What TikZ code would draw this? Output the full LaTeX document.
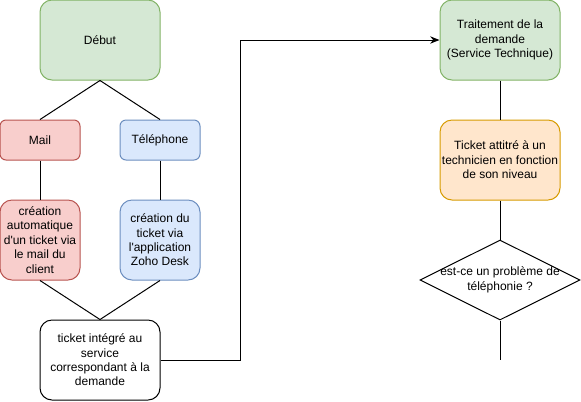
\documentclass[tikz,border=0pt]{standalone}
\usepackage{fontspec}
\setmainfont{Liberation Sans}
\usetikzlibrary{arrows.meta, shapes.geometric}

\definecolor{vertfond}{HTML}{D5E8D4}
\definecolor{verttrait}{HTML}{82B366}
\definecolor{rougefond}{HTML}{F8CECC}
\definecolor{rougetrait}{HTML}{B85450}
\definecolor{bleufond}{HTML}{DAE8FC}
\definecolor{bleutrait}{HTML}{6C8EBF}
\definecolor{orangefond}{HTML}{FFE6CC}
\definecolor{orangetrait}{HTML}{D79B00}

\begin{document}
\begin{tikzpicture}[
  x=0.75pt, y=-0.75pt,
  box/.style = {rectangle, draw, line width=0.75pt, align=center, inner sep=0pt,
                font=\fontsize{9}{10.8}\selectfont},
  bigbox/.style = {box, minimum width=90pt, minimum height=60pt, rounded corners=9pt},
  smallbox/.style = {box, minimum width=60pt, minimum height=30pt, rounded corners=4.5pt},
  squarebox/.style = {box, minimum width=60pt, minimum height=60pt, rounded corners=9pt},
  greenbox/.style = {fill=vertfond, draw=verttrait},
  redbox/.style = {fill=rougefond, draw=rougetrait},
  bluebox/.style = {fill=bleufond, draw=bleutrait},
  orangebox/.style = {fill=orangefond, draw=orangetrait},
  decision/.style = {diamond, draw, line width=0.75pt, inner sep=0pt,
                     minimum width=120pt, minimum height=60pt},
  link/.style = {line width=0.75pt},
  flow/.style = {link, -{Stealth[length=7pt, width=5.5pt]}}
]

% Page
\useasboundingbox (0,0) rectangle (581,401);

% Left column
\node[bigbox, greenbox] (debut) at (100,40) {Début};
\node[smallbox, redbox] (mail) at (40,140) {Mail};
\node[smallbox, bluebox] (telephone) at (160,140) {Téléphone};
\node[squarebox, redbox] (creationmail) at (40,240)
  {création\\automatique\\d\textquotesingle un ticket via\\le mail du\\client};
\node[squarebox, bluebox] (creationtel) at (160,240)
  {création du\\ticket via\\l\textquotesingle application\\Zoho Desk};
\node[bigbox, fill=white] (integre) at (100,360)
  {ticket intégré au\\service\\correspondant à la\\demande};

% Right column
\node[bigbox, greenbox] (traitement) at (500,40)
  {Traitement de la\\demande\\(Service Technique)};
\node[bigbox, orangebox] (attribution) at (500,160)
  {Ticket attitré à un\\technicien en fonction\\de son niveau};
\node[decision, label={[font=\fontsize{9}{10.8}\selectfont, align=center]center:est-ce un problème de\\téléphonie ?}]
  (probleme) at (500,280) {};

% Free ends
\coordinate (bend) at (240,360);
\coordinate (suite) at (500,360);

% Connectors
\draw[link] (debut.south) -- (mail.north);
\draw[link] (debut.south) -- (telephone.north);
\draw[link] (mail) -- (creationmail);
\draw[link] (telephone) -- (creationtel);
\draw[link] (creationmail.south) -- (integre.north);
\draw[link] (creationtel.south) -- (integre.north);
\draw[flow] (integre.east) -- (bend) |- (traitement.west);
\draw[link] (traitement) -- (attribution);
\draw[link] (attribution) -- (probleme);
\draw[link] (probleme.south) -- (suite);

\end{tikzpicture}
\end{document}
